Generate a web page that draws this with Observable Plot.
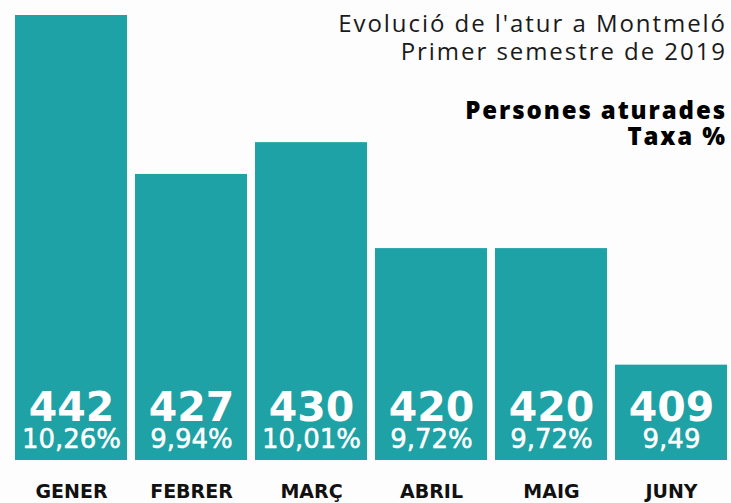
<!DOCTYPE html>
<html>
<head>
<meta charset="utf-8">
<script src="https://cdn.jsdelivr.net/npm/d3@7"></script>
<script src="https://cdn.jsdelivr.net/npm/@observablehq/plot@0.6"></script>
<style>
  html, body { margin: 0; padding: 0; background: #fdfdfd; }
  #wrap { position: relative; width: 731px; height: 503px; overflow: hidden; }
  #wrap svg { position: absolute; left: 0; top: 0; background: transparent; }
  .t { position: absolute; right: 4px; text-align: right; color: #1a1a1a; white-space: nowrap; font-family: "Open Sans", sans-serif; }
  #t1 { top: 9px; font-size: 24px; font-weight: 400; line-height: 28px; letter-spacing: 1.95px; }
  #t2 { top: 97px; font-size: 24px; font-weight: 800; line-height: 26px; letter-spacing: 1.9px; color: #000; }
</style>
</head>
<body>
<div id="wrap">
  <div class="t" id="t1">Evolució de l'atur a Montmeló<br>Primer semestre de 2019</div>
  <div class="t" id="t2">Persones aturades<br>Taxa %</div>
</div>
<script>
const months = ["GENER", "FEBRER", "MARÇ", "ABRIL", "MAIG", "JUNY"];
const persons = [442, 427, 430, 420, 420, 409];
const rates = ["10,26%", "9,94%", "10,01%", "9,72%", "9,72%", "9,49"];
const baseline = 400;

const data = months.map((m, i) => ({month: m, value: persons[i], rate: rates[i]}));
const teal = "#1fa2a5";

const chart = Plot.plot({
  width: 731,
  height: 503,
  marginTop: 15,
  marginBottom: 43,
  marginLeft: 13,
  marginRight: 3,
  style: {background: "transparent", fontFamily: "DejaVu Sans, sans-serif"},
  x: {domain: months, paddingInner: 0.07, paddingOuter: 0, label: null, axis: null},
  y: {domain: [baseline, 442], axis: null},
  marks: [
    Plot.barY(data, {x: "month", y1: () => baseline, y2: "value", fill: teal}),
    Plot.text(data, {x: "month", text: d => String(d.value), frameAnchor: "bottom", lineAnchor: "bottom", dy: -40, fill: "white", fontSize: 41, fontWeight: 700, fontFamily: "DejaVu Sans"}),
    Plot.text(data, {x: "month", text: "rate", frameAnchor: "bottom", lineAnchor: "bottom", dy: -13, fill: "white", stroke: "white", strokeWidth: 0.5, fontSize: 26, fontWeight: 400, fontFamily: "DejaVu Sans"}),
    Plot.axisX({tickSize: 0, tickPadding: 24, fontSize: 19, fontWeight: 700, fontFamily: "DejaVu Sans", fill: "#111", label: null})
  ]
});
document.getElementById("wrap").prepend(chart);
</script>
</body>
</html>
